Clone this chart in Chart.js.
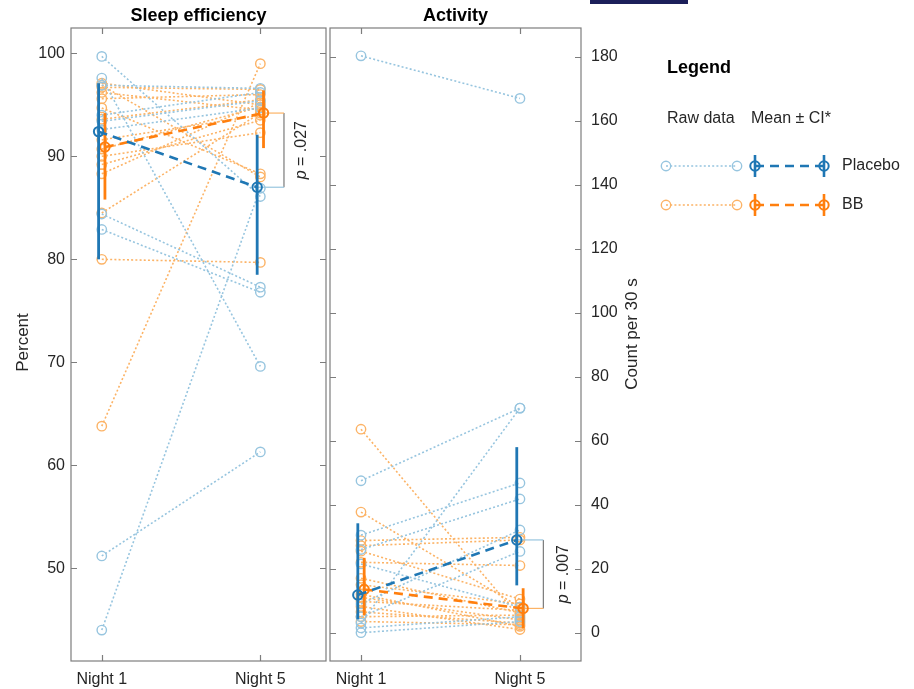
<!DOCTYPE html>
<html><head><meta charset="utf-8">
<script src="https://cdn.jsdelivr.net/npm/chart.js@4.4.1/dist/chart.umd.min.js"></script>
<style>
html,body{margin:0;padding:0;background:#fff;}
#wrap{position:relative;width:914px;height:689px;overflow:hidden;background:#fff;}
#c1{position:absolute;left:0;top:0;width:328px;height:689px;}
#c2{position:absolute;left:328px;top:0;width:586px;height:689px;}
#bar{position:absolute;left:590px;top:0;width:98px;height:4px;background:#1c1f5a;}
</style></head><body>
<div id="wrap"><canvas id="c1" width="328" height="689"></canvas><canvas id="c2" width="586" height="689"></canvas><div id="bar"></div></div>
<script>
// ---------- DATA ----------
const nights = ['Night 1', 'Night 5'];
const nightPos = [1, 2];
const panelTitles = ['Sleep efficiency', 'Activity'];

// Sleep efficiency (%), one entry per participant
const sleepPlaceboN1 = [99.7, 97.6, 96.9, 94.0, 93.4, 92.6, 84.4, 82.9, 51.2, 44.0];
const sleepPlaceboN5 = [86.1, 69.6, 96.6, 96.2, 95.4, 94.7, 77.3, 76.8, 61.3, 86.9];
const sleepBBN1 = [97.1, 96.7, 96.2, 95.6, 94.7, 93.6, 91.6, 90.7, 90.0, 89.2, 88.3, 84.5, 80.0, 63.8, 96.9];
const sleepBBN5 = [95.0, 96.5, 94.5, 96.0, 88.3, 95.5, 94.0, 94.8, 92.3, 93.5, 95.2, 94.2, 79.7, 99.0, 88.0];

// Activity (count per 30 s)
const actPlaceboN1 = [180.3, 47.5, 30.5, 26.0, 21.5, 9.0, 5.0, 3.0, 1.5, 0.0];
const actPlaceboN5 = [167.0, 70.2, 46.8, 41.8, 8.0, 32.1, 25.4, 70.2, 5.0, 3.5];
const actBBN1 = [63.6, 37.7, 28.8, 27.2, 25.5, 22.0, 17.0, 12.0, 9.8, 8.2, 6.5, 5.0, 3.5, 15.0, 11.0];
const actBBN5 = [4.5, 8.0, 29.8, 29.0, 10.5, 21.0, 6.2, 2.0, 7.0, 1.0, 3.0, 5.5, 2.5, 9.0, 4.0];

// Means and CI [Night 1, Night 5]
const sleepMeanPlacebo = [92.4, 87.0];
const sleepLoPlacebo = [80.0, 78.5];
const sleepHiPlacebo = [97.1, 92.1];
const sleepMeanBB = [90.9, 94.2];
const sleepLoBB = [85.8, 90.8];
const sleepHiBB = [94.2, 96.4];

const actMeanPlacebo = [11.8, 29.0];
const actLoPlacebo = [4.2, 14.8];
const actHiPlacebo = [34.2, 58.0];
const actMeanBB = [13.5, 7.6];
const actLoBB = [5.5, 1.4];
const actHiBB = [23.4, 13.9];

const sleepTicks = [50, 60, 70, 80, 90, 100];
const actTicks = [0, 20, 40, 60, 80, 100, 120, 140, 160, 180];
const pSleep = '.027';
const pAct = '.007';
const groups = ['Placebo', 'BB'];

// ---------- STYLE ----------
const FONT = '"Liberation Sans", Arial, Helvetica, sans-serif';
const LIGHT_BLUE = '#97c5df';
const LIGHT_ORANGE = '#fcb366';
const DARK_BLUE = '#1f77b4';
const DARK_ORANGE = '#ff7f0e';
const AXIS = '#7d7d7d';
const TEXT = '#262626';
const OFF = 0.02;
const TICK_SIZE = 16;

Chart.defaults.font.family = FONT;
Chart.defaults.color = TEXT;

function rawSets(n1, n5, color) {
  return n1.map((v, i) => ({
    data: [{x: nightPos[0], y: v}, {x: nightPos[1], y: n5[i]}],
    showLine: true, borderColor: color, borderWidth: 1.6, borderDash: [2, 2.2],
    pointRadius: 4.7, pointBorderWidth: 1.4, pointBorderColor: color,
    pointBackgroundColor: 'rgba(0,0,0,0)', order: 5
  }));
}
function meanSets(m, lo, hi, color, dx) {
  return [
    {data: [{x: nightPos[0] + dx, y: m[0]}, {x: nightPos[1] + dx, y: m[1]}],
     showLine: true, borderColor: color, borderWidth: 2.6, borderDash: [9, 6],
     pointRadius: 4.7, pointBorderWidth: 2, pointBorderColor: color,
     pointBackgroundColor: 'rgba(0,0,0,0)', order: 1},
    {data: [{x: nightPos[0] + dx, y: lo[0]}, {x: nightPos[0] + dx, y: hi[0]}],
     showLine: true, borderColor: color, borderWidth: 2.8, pointRadius: 0, order: 1},
    {data: [{x: nightPos[1] + dx, y: lo[1]}, {x: nightPos[1] + dx, y: hi[1]}],
     showLine: true, borderColor: color, borderWidth: 2.8, pointRadius: 0, order: 1}
  ];
}
function bracketSets(yP, yB, bx) {
  return [
    {data: [{x: nightPos[1] - OFF, y: yP}, {x: bx, y: yP}], showLine: true, borderColor: LIGHT_BLUE, borderWidth: 1.2, pointRadius: 0, order: 3},
    {data: [{x: nightPos[1] + OFF, y: yB}, {x: bx, y: yB}], showLine: true, borderColor: LIGHT_ORANGE, borderWidth: 1.2, pointRadius: 0, order: 3},
    {data: [{x: bx, y: yP}, {x: bx, y: yB}], showLine: true, borderColor: '#6e6e6e', borderWidth: 1.1, pointRadius: 0, order: 3}
  ];
}

function zeroPad(s) { s.paddingLeft = 0; s.paddingRight = 0; s.paddingTop = 0; s.paddingBottom = 0; }

function boxPlugin(title, pInfo, extra) {
  return {
    id: 'box',
    afterDatasetsDraw(chart) {
      const {ctx, chartArea: a, scales} = chart;
      const xs = scales.x, ys = scales.y;
      ctx.save();
      ctx.strokeStyle = AXIS; ctx.lineWidth = 1.2;
      ctx.strokeRect(a.left, a.top, a.right - a.left, a.bottom - a.top);
      ctx.beginPath();
      ys.ticks.forEach(t => {
        const py = Math.round(ys.getPixelForValue(t.value)) + 0.5;
        ctx.moveTo(a.left, py); ctx.lineTo(a.left + 6, py);
        ctx.moveTo(a.right, py); ctx.lineTo(a.right - 6, py);
      });
      xs.ticks.forEach(t => {
        const px = Math.round(xs.getPixelForValue(t.value)) + 0.5;
        ctx.moveTo(px, a.bottom); ctx.lineTo(px, a.bottom - 6);
        ctx.moveTo(px, a.top); ctx.lineTo(px, a.top + 6);
      });
      ctx.stroke();
      ctx.fillStyle = '#000';
      ctx.font = 'bold 18px ' + FONT;
      ctx.textAlign = 'center'; ctx.textBaseline = 'middle';
      ctx.fillText(title, (a.left + a.right) / 2, 16);
      const tx = xs.getPixelForValue(pInfo.x), ty = ys.getPixelForValue(pInfo.y);
      ctx.translate(tx, ty); ctx.rotate(-Math.PI / 2);
      ctx.fillStyle = TEXT;
      ctx.font = 'italic 16px ' + FONT;
      const w1 = ctx.measureText('p').width;
      ctx.font = '16px ' + FONT;
      const rest = ' = ' + pInfo.p;
      const w2 = ctx.measureText(rest).width;
      ctx.textAlign = 'left';
      ctx.font = 'italic 16px ' + FONT;
      ctx.fillText('p', -(w1 + w2) / 2, 0);
      ctx.font = '16px ' + FONT;
      ctx.fillText(rest, -(w1 + w2) / 2 + w1, 0);
      ctx.restore();
      if (extra) extra(chart);
    }
  };
}

function xScale(min, max) {
  return {
    type: 'linear', min: min, max: max,
    grid: {display: false, drawTicks: false}, border: {display: false},
    afterBuildTicks: s => { s.ticks = nightPos.map(v => ({value: v})); },
    ticks: {callback: v => nights[nightPos.indexOf(v)] || '', font: {size: TICK_SIZE}, color: TEXT, padding: 9, maxRotation: 0, autoSkip: false},
    afterFit: s => { s.height = 28; zeroPad(s); }
  };
}

// ---------- LEFT PANEL ----------
const sleepDatasets = [].concat(
  rawSets(sleepPlaceboN1, sleepPlaceboN5, LIGHT_BLUE),
  rawSets(sleepBBN1, sleepBBN5, LIGHT_ORANGE),
  meanSets(sleepMeanPlacebo, sleepLoPlacebo, sleepHiPlacebo, DARK_BLUE, -OFF),
  meanSets(sleepMeanBB, sleepLoBB, sleepHiBB, DARK_ORANGE, OFF),
  bracketSets(sleepMeanPlacebo[1], sleepMeanBB[1], 2.149)
);

new Chart(document.getElementById('c1'), {
  type: 'scatter',
  data: {datasets: sleepDatasets},
  options: {
    responsive: false, animation: false, events: [],
    layout: {autoPadding: false, padding: {top: 28, right: 2, left: 0, bottom: 0}},
    plugins: {legend: {display: false}, tooltip: {enabled: false}},
    scales: {
      x: xScale(0.806, 2.414),
      y: {
        type: 'linear', position: 'left', min: 41.0, max: 102.46,
        grid: {display: false, drawTicks: false}, border: {display: false},
        afterBuildTicks: s => { s.ticks = sleepTicks.map(v => ({value: v})); },
        ticks: {font: {size: TICK_SIZE}, color: TEXT, padding: 6},
        afterFit: s => { s.width = 71; zeroPad(s); }
      }
    }
  },
  plugins: [boxPlugin(panelTitles[0], {x: 2.257, y: (sleepMeanPlacebo[1] + sleepMeanBB[1]) / 2, p: pSleep}, chart => {
    const ctx = chart.ctx, a = chart.chartArea;
    ctx.save();
    ctx.translate(23, (a.top + a.bottom) / 2 - 2);
    ctx.rotate(-Math.PI / 2);
    ctx.fillStyle = TEXT; ctx.font = '17px ' + FONT;
    ctx.textAlign = 'center'; ctx.textBaseline = 'middle';
    ctx.fillText('Percent', 0, 0);
    ctx.restore();
  })]
});

// ---------- RIGHT PANEL ----------
const actDatasets = [].concat(
  rawSets(actPlaceboN1, actPlaceboN5, LIGHT_BLUE),
  rawSets(actBBN1, actBBN5, LIGHT_ORANGE),
  meanSets(actMeanPlacebo, actLoPlacebo, actHiPlacebo, DARK_BLUE, -OFF),
  meanSets(actMeanBB, actLoBB, actHiBB, DARK_ORANGE, OFF),
  bracketSets(actMeanPlacebo[1], actMeanBB[1], 2.147)
);

function drawLegend(chart) {
  const ctx = chart.ctx;
  const ox = 328;
  ctx.save();
  ctx.fillStyle = '#000';
  ctx.textBaseline = 'middle'; ctx.textAlign = 'left';
  ctx.font = 'bold 18px ' + FONT;
  ctx.fillText('Legend', 667 - ox, 68);
  ctx.fillStyle = TEXT;
  ctx.font = '16px ' + FONT;
  ctx.fillText('Raw data', 667 - ox, 119);
  ctx.fillText('Mean \u00B1 CI*', 751 - ox, 119);
  const rows = [
    {y: 166, light: LIGHT_BLUE, dark: DARK_BLUE, label: groups[0]},
    {y: 205, light: LIGHT_ORANGE, dark: DARK_ORANGE, label: groups[1]}
  ];
  rows.forEach(r => {
    ctx.strokeStyle = r.light; ctx.lineWidth = 1.6; ctx.setLineDash([2, 2.2]);
    ctx.beginPath(); ctx.moveTo(666 - ox, r.y); ctx.lineTo(737 - ox, r.y); ctx.stroke();
    ctx.setLineDash([]); ctx.lineWidth = 1.4;
    [666, 737].forEach(x => { ctx.beginPath(); ctx.arc(x - ox, r.y, 4.7, 0, Math.PI * 2); ctx.stroke(); });
    ctx.strokeStyle = r.dark; ctx.lineWidth = 2.6; ctx.setLineDash([9, 6]);
    ctx.beginPath(); ctx.moveTo(755 - ox, r.y); ctx.lineTo(824 - ox, r.y); ctx.stroke();
    ctx.setLineDash([]);
    [755, 824].forEach(x => {
      ctx.lineWidth = 2.6;
      ctx.beginPath(); ctx.moveTo(x - ox, r.y - 11); ctx.lineTo(x - ox, r.y + 11); ctx.stroke();
      ctx.lineWidth = 2;
      ctx.beginPath(); ctx.arc(x - ox, r.y, 4.7, 0, Math.PI * 2); ctx.stroke();
    });
    ctx.fillStyle = TEXT;
    ctx.fillText(r.label, 842 - ox, r.y);
  });
  ctx.translate(632 - ox, 334);
  ctx.rotate(-Math.PI / 2);
  ctx.textAlign = 'center';
  ctx.font = '17px ' + FONT;
  ctx.fillText('Count per 30 s', 0, 0);
  ctx.restore();
}

new Chart(document.getElementById('c2'), {
  type: 'scatter',
  data: {datasets: actDatasets},
  options: {
    responsive: false, animation: false, events: [],
    layout: {autoPadding: false, padding: {top: 28, right: 0, left: 2, bottom: 0}},
    plugins: {legend: {display: false}, tooltip: {enabled: false}},
    scales: {
      x: xScale(0.805, 2.384),
      y: {
        type: 'linear', position: 'right', min: -8.84, max: 189.0,
        grid: {display: false, drawTicks: false}, border: {display: false},
        afterBuildTicks: s => { s.ticks = actTicks.map(v => ({value: v})); },
        ticks: {font: {size: TICK_SIZE}, color: TEXT, padding: 10},
        afterFit: s => { s.width = 333; zeroPad(s); }
      }
    }
  },
  plugins: [boxPlugin(panelTitles[1], {x: 2.277, y: (actMeanPlacebo[1] + actMeanBB[1]) / 2, p: pAct}, drawLegend)]
});
</script>
</body></html>
